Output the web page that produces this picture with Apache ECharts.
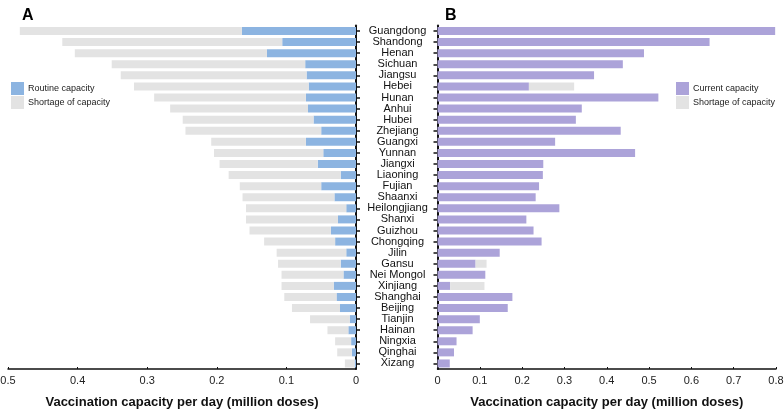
<!DOCTYPE html>
<html>
<head>
<meta charset="utf-8">
<script src="https://cdn.jsdelivr.net/npm/echarts@6/dist/echarts.min.js"></script>
<style>html,body{margin:0;padding:0;background:#fff}#c{width:784px;height:410px}</style>
</head>
<body>
<div id="c"></div>
<script>
var provinces = ["Guangdong","Shandong","Henan","Sichuan","Jiangsu","Hebei","Hunan","Anhui","Hubei","Zhejiang","Guangxi","Yunnan","Jiangxi","Liaoning","Fujian","Shaanxi","Heilongjiang","Shanxi","Guizhou","Chongqing","Jilin","Gansu","Nei Mongol","Xinjiang","Shanghai","Beijing","Tianjin","Hainan","Ningxia","Qinghai","Xizang"];
// Panel A
var routineCapacity = [0.164,0.106,0.128,0.073,0.071,0.068,0.072,0.069,0.061,0.050,0.072,0.047,0.055,0.022,0.050,0.031,0.014,0.026,0.036,0.030,0.014,0.022,0.018,0.032,0.028,0.023,0.009,0.011,0.007,0.006,0.002];
var shortageA = [0.319,0.316,0.276,0.278,0.267,0.251,0.218,0.198,0.188,0.195,0.136,0.157,0.141,0.161,0.117,0.132,0.144,0.132,0.117,0.102,0.100,0.090,0.089,0.075,0.075,0.069,0.057,0.030,0.023,0.021,0.014];
// Panel B
var currentCapacity = [0.798,0.643,0.488,0.438,0.370,0.216,0.522,0.341,0.327,0.433,0.278,0.467,0.250,0.249,0.240,0.232,0.288,0.210,0.227,0.246,0.147,0.090,0.113,0.030,0.177,0.166,0.100,0.083,0.045,0.039,0.029];
var shortageB = [0,0,0,0,0,0.107,0,0,0,0,0,0,0,0,0,0,0,0,0,0,0,0.026,0,0.081,0,0,0,0,0,0,0];
var ticksA = [0,0.1,0.2,0.3,0.4,0.5];
var ticksB = [0,0.1,0.2,0.3,0.4,0.5,0.6,0.7,0.8];

var BLUE = '#8cb4e1', GRAY = '#e3e3e3', PURPLE = '#aca3d9';
var FONT = 'Liberation Sans, Arial, sans-serif';
var chart = echarts.init(document.getElementById('c'), null, {renderer: 'canvas'});
var axisName = 'Vaccination capacity per day (million doses)';
function xAxisCfg(gi, inverse, ticks) {
  return {
    type: 'value', gridIndex: gi, min: ticks[0], max: ticks[ticks.length - 1], interval: 0.1, inverse: inverse,
    axisLine: {show: true, lineStyle: {color: '#111', width: 1.5}},
    axisTick: {show: true, inside: true, length: 2, lineStyle: {color: '#111'}},
    splitLine: {show: false},
    axisLabel: {fontFamily: FONT, fontSize: 11, color: '#222', margin: 6,
      formatter: function (v) { return String(Math.round(v * 10) / 10); }},
    name: axisName, nameLocation: 'middle', nameGap: 27,
    nameTextStyle: {fontFamily: FONT, fontSize: 13, fontWeight: 'bold', color: '#111'}
  };
}
chart.setOption({
  animation: false,
  textStyle: {fontFamily: FONT},
  title: [
    {text: 'A', left: 17, top: 3, textStyle: {fontFamily: FONT, fontSize: 16, fontWeight: 'bold', color: '#000'}},
    {text: 'B', left: 440, top: 3, textStyle: {fontFamily: FONT, fontSize: 16, fontWeight: 'bold', color: '#000'}}
  ],
  legend: [
    {data: ['Routine capacity', 'Shortage of capacity'], orient: 'vertical', left: 11, top: 82, padding: 0,
     itemWidth: 13, itemHeight: 13, itemGap: 1, icon: 'rect',
     textStyle: {fontFamily: FONT, fontSize: 9, color: '#222', padding: [0,0,0,-1]}},
    {data: ['Current capacity', {name: 'Shortage of capacity'}], orient: 'vertical', left: 676, top: 82, padding: 0,
     itemWidth: 13, itemHeight: 13, itemGap: 1, icon: 'rect',
     textStyle: {fontFamily: FONT, fontSize: 9, color: '#222', padding: [0,0,0,-1]}}
  ],
  grid: [
    {left: 8, right: 428, top: 25.5, bottom: 41, containLabel: false, outerBoundsMode: 'none'},
    {left: 437.5, right: 8, top: 25.5, bottom: 41, containLabel: false, outerBoundsMode: 'none'}
  ],
  xAxis: [xAxisCfg(0, true, ticksA), xAxisCfg(1, false, ticksB)],
  yAxis: [
    {type: 'category', gridIndex: 0, data: provinces, inverse: true, position: 'right',
     axisLine: {show: true, lineStyle: {color: '#111', width: 2}},
     axisTick: {show: true, alignWithLabel: true, interval: 0, length: 4, lineStyle: {color: '#111', width: 1.5}},
     axisLabel: {show: false, interval: 0}},
    {type: 'category', gridIndex: 1, data: provinces, inverse: true, position: 'left',
     axisLine: {show: true, lineStyle: {color: '#111', width: 2}},
     axisTick: {show: true, alignWithLabel: true, interval: 0, length: 4, lineStyle: {color: '#111', width: 1.5}},
     axisLabel: {show: true, interval: 0, align: 'center', margin: 40, fontFamily: FONT, fontSize: 11, color: '#111'}}
  ],
  series: [
    {name: 'Routine capacity', type: 'bar', stack: 'a', xAxisIndex: 0, yAxisIndex: 0, data: routineCapacity, barWidth: 8, itemStyle: {color: BLUE}},
    {name: 'Shortage of capacity', type: 'bar', stack: 'a', xAxisIndex: 0, yAxisIndex: 0, data: shortageA, barWidth: 8, itemStyle: {color: GRAY}},
    {name: 'Current capacity', type: 'bar', stack: 'b', xAxisIndex: 1, yAxisIndex: 1, data: currentCapacity, barWidth: 8, itemStyle: {color: PURPLE}},
    {name: 'Shortage of capacity', type: 'bar', stack: 'b', xAxisIndex: 1, yAxisIndex: 1, data: shortageB, barWidth: 8, itemStyle: {color: GRAY}}
  ]
});
</script>
</body>
</html>
